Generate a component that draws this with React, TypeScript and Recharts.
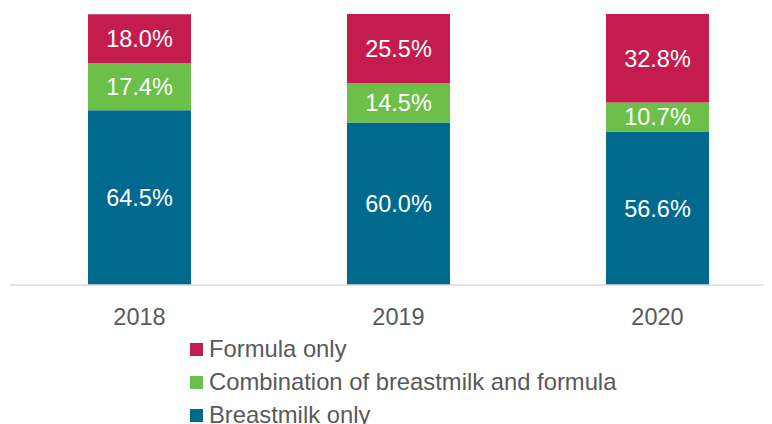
import { BarChart, Bar, XAxis, YAxis, LabelList } from "recharts";

const years = ["2018", "2019", "2020"];
const breastmilkOnly = [64.5, 60.0, 56.6];
const combination = [17.4, 14.5, 10.7];
const formulaOnly = [18.0, 25.5, 32.8];

const seriesInfo = [
  { key: "formula", name: "Formula only", color: "#C41C4D" },
  { key: "combo", name: "Combination of breastmilk and formula", color: "#6CC04A" },
  { key: "breast", name: "Breastmilk only", color: "#006A8E" },
];

const data = years.map((year, i) => ({
  year,
  breast: breastmilkOnly[i],
  combo: combination[i],
  formula: formulaOnly[i],
}));

const FONT = "'Liberation Sans', Arial, sans-serif";
const FS = 23.5;

function fmt(v: any) {
  return `${Number(v).toFixed(1)}%`;
}

function LegendBox() {
  return (
    <div
      style={{
        position: "absolute",
        left: 190,
        top: 332.5,
        fontFamily: FONT,
        fontSize: 23.8,
        color: "#595959",
      }}
    >
      {seriesInfo.map((s) => (
        <div
          key={s.key}
          style={{ display: "flex", alignItems: "center", height: 33, whiteSpace: "nowrap" }}
        >
          <span
            style={{
              display: "inline-block",
              width: 13,
              height: 13,
              background: s.color,
              marginRight: 6,
            }}
          />
          <span>{s.name}</span>
        </div>
      ))}
    </div>
  );
}

export default function App() {
  // plot area runs a little past the right edge, like the original
  return (
    <div
      style={{
        position: "relative",
        marginTop: -8,
        marginLeft: -8,
        width: 772,
        height: 424,
        overflow: "hidden",
        background: "#fff",
      }}
    >
      <BarChart
        width={790}
        height={424}
        data={data}
        margin={{ top: 14, right: 3, left: 10, bottom: 79 }}
      >
        <XAxis
          dataKey="year"
          axisLine={{ stroke: "#D9D9D9", strokeWidth: 1.5 }}
          tickLine={false}
          tickSize={0}
          tickMargin={23}
          height={60}
          tick={{ fill: "#595959", fontSize: FS, fontFamily: FONT }}
        />
        <YAxis hide domain={[0, 100]} allowDataOverflow />
        <Bar dataKey="breast" stackId="a" fill="#006A8E" barSize={103} isAnimationActive={false}>
          <LabelList dataKey="breast" position="center" fill="#fff" fontSize={FS} fontFamily={FONT} formatter={fmt} />
        </Bar>
        <Bar dataKey="combo" stackId="a" fill="#6CC04A" barSize={103} isAnimationActive={false}>
          <LabelList dataKey="combo" position="center" fill="#fff" fontSize={FS} fontFamily={FONT} formatter={fmt} />
        </Bar>
        <Bar dataKey="formula" stackId="a" fill="#C41C4D" barSize={103} isAnimationActive={false}>
          <LabelList dataKey="formula" position="center" fill="#fff" fontSize={FS} fontFamily={FONT} formatter={fmt} />
        </Bar>
      </BarChart>
      <LegendBox />
    </div>
  );
}
